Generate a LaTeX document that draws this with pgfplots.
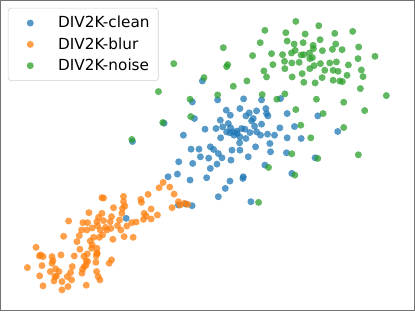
\documentclass[border=0pt]{standalone}
\usepackage{pgfplots}
\pgfplotsset{compat=1.18}
\usepackage{fontspec}
\setmainfont{DejaVu Sans}
\definecolor{tabblue}{HTML}{1F77B4}
\definecolor{taborange}{HTML}{FF7F0E}
\definecolor{tabgreen}{HTML}{2CA02C}
\begin{document}
\begin{tikzpicture}
\begin{axis}[
  scale only axis, width=285pt, height=213.6pt,
  xmin=0, xmax=1245, ymin=0, ymax=933, y dir=reverse,
  xtick=\empty, ytick=\empty,
  axis line style={black!55, line width=0.6pt},
  legend style={at={(0.018,0.976)}, anchor=north west, draw=black!18, rounded corners=2pt,
    font=\fontsize{10.5}{12}\selectfont, row sep=1.2pt, inner xsep=4pt, inner ysep=3.5pt},
  legend cell align=left,
  every axis plot/.append style={only marks, mark=*, mark size=2.4pt,
    legend image code/.code={\path (0pt,0pt) (28pt,0pt); \draw[mark repeat=2,mark phase=2,#1] plot coordinates {(0pt,0pt)(11pt,0pt)(28pt,0pt)};}},
]
\addplot[color=tabblue, mark options={fill=tabblue, draw opacity=0, fill opacity=0.75}] coordinates {
(607,242) (577,305) (653,299) (731,296) (785,299) (842,295) (583,355) (679,330) (661,360) (691,345)
(720,325) (738,347) (748,338) (760,355) (770,332) (798,325) (800,340) (804,347) (862,340) (954,347)
(550,405) (615,387) (648,385) (668,380) (685,370) (692,383) (702,405) (711,393) (720,410) (735,387)
(750,397) (764,378) (785,372) (803,402) (824,405) (840,383) (884,379) (862,413) (904,415) (1014,394)
(573,447) (597,447) (631,440) (641,448) (655,460) (662,413) (690,398) (696,450) (719,428) (738,415)
(767,440) (782,405) (810,430) (812,455) (536,485) (578,490) (601,470) (626,474) (651,492) (666,473)
(720,450) (745,470) (693,480) (532,522) (504,530) (570,540) (620,533) (631,505) (690,543) (729,535)
(730,530) (795,495) (860,458) (876,520) (946,473) (676,565) (655,590) (753,605) (535,615) (576,617)
(378,655) (492,369) (397,424) (557,612) (700,395) (712,400) (725,385) (680,395) (770,395) (755,362)
};
\addlegendentry{DIV2K-clean}
\addplot[color=taborange, mark options={fill=taborange, draw opacity=0, fill opacity=0.75}] coordinates {
(489,547) (509,561) (477,563) (522,582) (444,583) (370,589) (305,593) (310,594) (422,598) (424,607)
(535,605) (540,615) (553,610) (563,613) (516,623) (370,605) (374,618) (340,623) (367,625) (453,627)
(365,640) (334,650) (305,640) (266,638) (432,640) (438,648) (472,645) (395,668) (408,666) (430,658)
(453,657) (358,660) (352,677) (330,665) (310,662) (295,652) (290,665) (292,677) (248,668) (262,668)
(244,690) (260,690) (276,684) (205,663) (300,690) (307,705) (320,690) (316,682) (332,685) (380,678)
(362,690) (372,710) (399,712) (338,718) (297,712) (280,712) (270,723) (276,735) (274,745) (290,745)
(291,760) (237,707) (230,725) (190,709) (222,768) (239,748) (251,769) (261,762) (258,782) (262,785)
(252,800) (257,796) (247,808) (245,820) (216,800) (211,818) (201,830) (214,840) (166,807) (168,829)
(164,830) (161,843) (176,815) (182,765) (155,770) (155,790) (158,782) (150,815) (125,797) (128,770)
(121,765) (117,768) (107,742) (81,803) (118,828) (128,858) (185,845) (185,870) (203,860) (258,856)
(289,815) (294,830) (299,840) (287,787) (327,790) (334,780) (288,768) (290,760)
};
\addlegendentry{DIV2K-blur}
\addplot[color=tabgreen, mark options={fill=tabgreen, draw opacity=0, fill opacity=0.75}] coordinates {
(888,63) (957,76) (795,90) (858,97) (916,101) (1005,99) (1059,93) (862,122) (781,127) (883,131)
(910,127) (940,135) (961,118) (1008,131) (670,142) (815,160) (848,163) (875,158) (886,150) (912,163)
(929,158) (941,145) (968,151) (998,147) (1027,148) (1077,140) (758,166) (854,183) (876,188) (898,186)
(904,164) (938,172) (962,190) (990,188) (1010,185) (1046,194) (1075,175) (1126,168) (521,190) (683,193)
(680,199) (819,193) (792,212) (800,230) (855,205) (877,230) (907,220) (930,205) (943,196) (975,210)
(1000,210) (1015,213) (1042,225) (1085,209) (1090,229) (1000,240) (1020,242) (1028,244) (612,232) (741,242)
(700,258) (912,246) (946,248) (967,232) (1082,265) (1160,286) (475,274) (653,284) (570,297) (787,283)
(855,281) (831,297) (950,297) (1032,306) (888,328) (1095,331) (572,349) (488,367) (970,340) (903,375)
(1032,382) (395,418) (933,413) (876,461) (954,475) (1076,464) (806,502) (885,525) (776,607) (930,175)
};
\addlegendentry{DIV2K-noise}
\end{axis}
\end{tikzpicture}
\end{document}
